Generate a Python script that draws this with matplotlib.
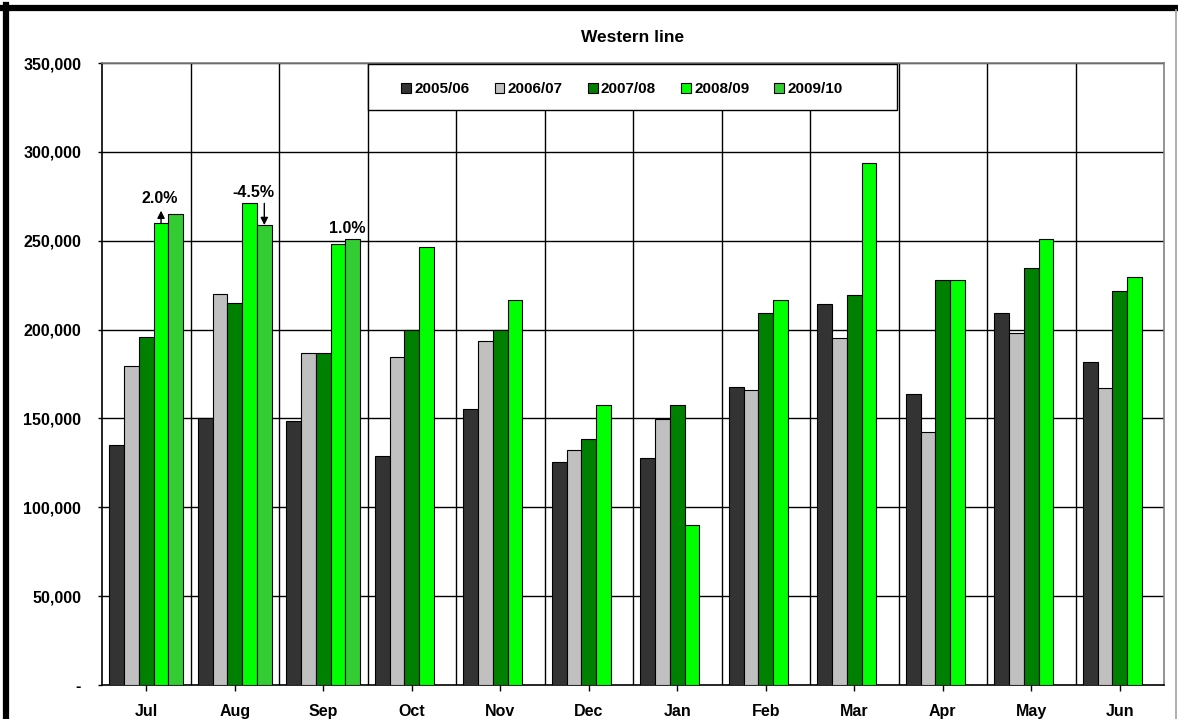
import matplotlib
matplotlib.use("Agg")
import matplotlib.pyplot as plt
import numpy as np
from matplotlib.lines import Line2D
from matplotlib.patches import Rectangle
from matplotlib.ticker import FuncFormatter

plt.rcParams['font.family'] = ['Liberation Sans', 'DejaVu Sans']
plt.rcParams['font.weight'] = 'bold'

months = ["Jul", "Aug", "Sep", "Oct", "Nov", "Dec", "Jan", "Feb", "Mar", "Apr", "May", "Jun"]
seasons = ["2005/06", "2006/07", "2007/08", "2008/09", "2009/10"]

fy2005 = [135200, 150000, 148700, 129000, 155500, 125500, 127600, 167700, 214200, 163700, 209500, 181600]
fy2006 = [179500, 220100, 187000, 184700, 193700, 132200, 149500, 165800, 195000, 142400, 197900, 167300]
fy2007 = [195800, 214900, 187000, 200000, 200000, 138400, 157500, 209300, 219600, 227700, 234800, 221700]
fy2008 = [259900, 271000, 248300, 246200, 216800, 157400, 89900, 216800, 293800, 227700, 250900, 229400]
fy2009 = [265200, 258800, 250800]

series = [fy2005, fy2006, fy2007, fy2008, fy2009]
colors = ["#333333", "#C0C0C0", "#008000", "#00FF00", "#33CC33"]

changes = ["2.0%", "-4.5%", "1.0%"]

fig = plt.figure(figsize=(11.78, 7.19), dpi=100)
ax = fig.add_axes([102 / 1178, 1 - 685 / 719, 1062 / 1178, 622 / 719])

x = np.arange(len(months))
w = 0.167
for i, (vals, col, lab) in enumerate(zip(series, colors, seasons)):
    xi = x[:len(vals)] + (i - 2) * w
    ax.bar(xi, vals, width=w, color=col, edgecolor="black", linewidth=0.8,
           label=lab, zorder=3)

# year-on-year change labels for the 2009/10 months
lbl = dict(ha="center", va="center", fontsize=11.5, fontweight="bold", zorder=5)
ax.text(0 + 0.156, 274000, changes[0], **lbl)
ax.text(1 + 0.206, 277300, changes[1], **lbl)
ax.text(2 + 0.268, 257000, changes[2], **lbl)

arrow = dict(arrowstyle="-|>", color="black", lw=1, mutation_scale=11, shrinkA=0, shrinkB=0)
ax.annotate("", xy=(0 + w, fy2008[0] + 7000), xytext=(0 + w, fy2008[0]),
            arrowprops=arrow, zorder=5)
ax.annotate("", xy=(1 + 2 * w, fy2009[1]), xytext=(1 + 2 * w, fy2008[1]),
            arrowprops=arrow, zorder=5)

ax.set_xlim(-0.5, len(months) - 0.5)
ax.set_ylim(0, 350000)
ax.set_yticks(np.arange(0, 350001, 50000))
ax.yaxis.set_major_formatter(FuncFormatter(lambda v, p: "-" if v == 0 else f"{int(v):,}"))
ax.set_xticks(x)
ax.set_xticklabels(months)

for t in ax.get_xticklabels() + ax.get_yticklabels():
    t.set_fontweight("bold")
    t.set_fontsize(11.5)

ax.tick_params(axis="y", length=3, width=1, pad=12, direction="out")
ax.tick_params(axis="x", length=4, width=1, pad=10, direction="out")

# grid: horizontal value lines and category separators
for yv in np.arange(50000, 350001, 50000):
    ax.axhline(yv, color="black", lw=1.0, zorder=1)
for xv in np.arange(0.5, len(months) - 0.5, 1):
    ax.axvline(xv, color="black", lw=1.0, zorder=1)

for s in ["left", "bottom"]:
    ax.spines[s].set_color("black")
    ax.spines[s].set_linewidth(1.2)
for s in ["top", "right"]:
    ax.spines[s].set_color("#808080")
    ax.spines[s].set_linewidth(1.2)

ax.set_title("Western line", fontsize=12.5, fontweight="bold", pad=15)

# legend box drawn over the grid, with the entries centred inside it
box = Rectangle((0.2505, 0.9244), 0.4981, 0.0740, transform=ax.transAxes,
                facecolor="white", edgecolor="black", lw=1.0, zorder=6)
ax.add_patch(box)
leg = ax.legend(loc="center", bbox_to_anchor=(0.4896, 0.958), ncol=5, frameon=False,
                handlelength=0.65, handleheight=0.65, handletextpad=0.2,
                columnspacing=1.65, borderaxespad=0, prop={"weight": "bold", "size": 11})
leg.set_zorder(7)

# outer chart frame
fig.add_artist(Line2D([6 / 1178, 6 / 1178], [0, 1 - 5 / 719], transform=fig.transFigure,
                      color="black", lw=4.5))
fig.add_artist(Line2D([3 / 1178, 1], [1 - 8 / 719, 1 - 8 / 719], transform=fig.transFigure,
                      color="black", lw=4.5))
fig.add_artist(Line2D([1176 / 1178, 1176 / 1178], [0, 1 - 10 / 719], transform=fig.transFigure,
                      color="#A0A0A0", lw=1.2))

fig.savefig("out.png", dpi=100)
